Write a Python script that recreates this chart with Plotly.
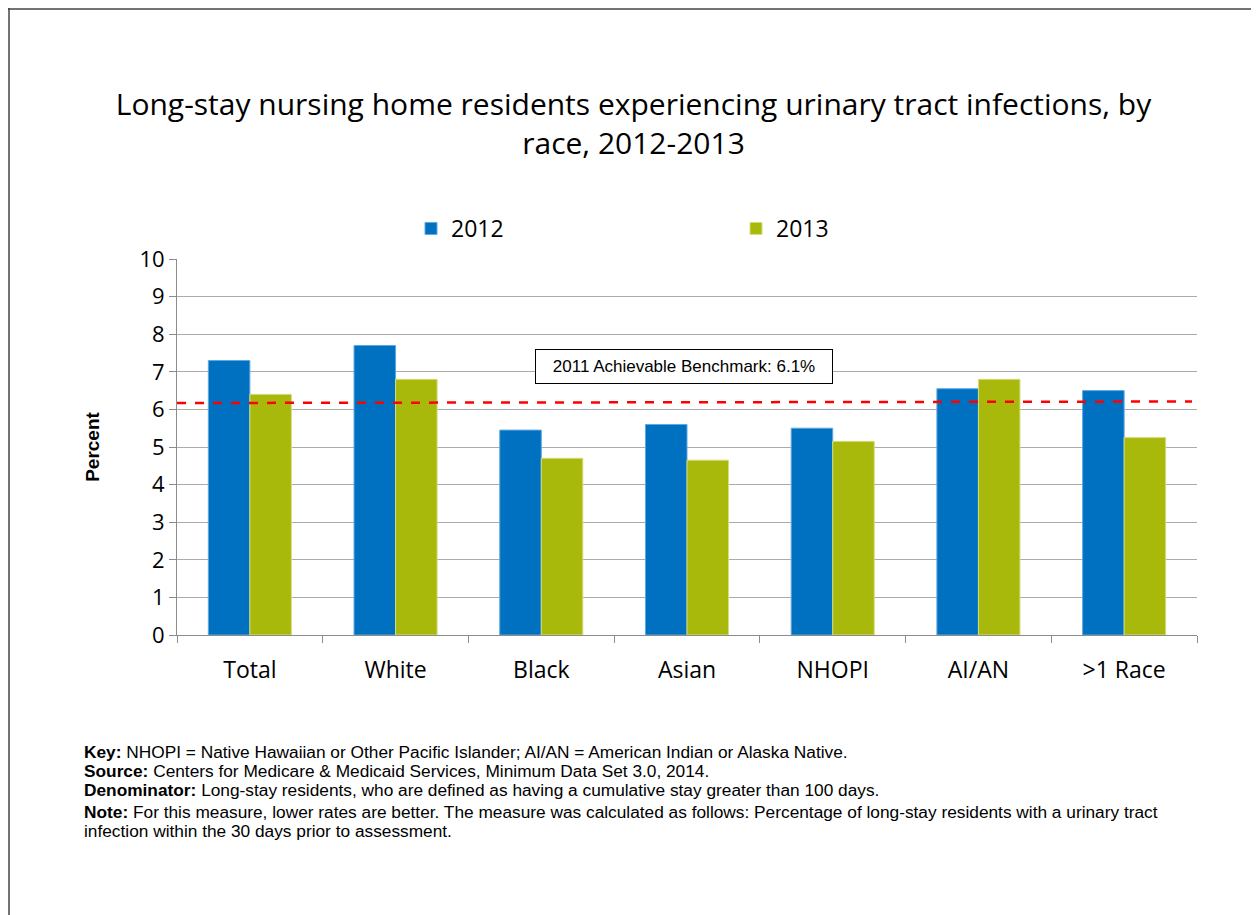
import plotly.graph_objects as go

races = ["Total", "White", "Black", "Asian", "NHOPI", "AI/AN", ">1 Race"]
pct_2012 = [7.3, 7.7, 5.45, 5.6, 5.5, 6.55, 6.5]
pct_2013 = [6.4, 6.8, 4.7, 4.65, 5.15, 6.8, 5.25]
benchmark = 6.17
benchmark_label = "2011 Achievable Benchmark: 6.1%"
y_ticks = list(range(0, 11))

notes = [
    ("Key:", " NHOPI = Native Hawaiian or Other Pacific Islander; AI/AN = American Indian or Alaska Native."),
    ("Source:", " Centers for Medicare & Medicaid Services, Minimum Data Set 3.0, 2014."),
    ("Denominator:", " Long-stay residents, who are defined as having a cumulative stay greater than 100 days."),
    ("Note:", " For this measure, lower rates are better. The measure was calculated as follows: Percentage of long-stay residents with a urinary tract"),
    ("", "infection within the 30 days prior to assessment."),
]

# page puts the figure 8px in from the top-left corner
OFF = 8
W, H = 1259, 915
L, R, T, B = 177, 62, 259, 280   # plot area in screen pixels
pw, ph = W - L - R, H - T - B

SANS = "Open Sans, Lato, sans-serif"
ARIAL = "Liberation Sans, Arial, sans-serif"


def px_x(p):
    return (p - L) / pw


def px_y(p):
    return (H - B - p) / ph


fig = go.Figure()
fig.add_bar(x=races, y=pct_2012, name="2012", marker_color="#0070C0",
            marker_line=dict(color="#5FA8E0", width=1))
fig.add_bar(x=races, y=pct_2013, name="2013", marker_color="#A9B90C",
            marker_line=dict(color="#D4DC80", width=1))

fig.update_layout(
    width=W - OFF, height=H - OFF,
    margin=dict(l=L - OFF, r=R, t=T - OFF, b=B),
    paper_bgcolor="white", plot_bgcolor="white",
    barmode="group", bargap=0.43, bargroupgap=0,
    font=dict(family=SANS, color="black"),
    title=dict(text="Long-stay nursing home residents experiencing urinary tract infections, by<br>race, 2012-2013",
               x=0.5, xref="container", xanchor="center", y=1 - (115 - OFF) / (H - OFF), yanchor="top",
               font=dict(size=30, family=SANS, color="black")),
    showlegend=True,
    legend=dict(orientation="h", x=px_x(411), y=px_y(207), xanchor="left", yanchor="top",
                font=dict(size=23), itemwidth=30, entrywidth=280, traceorder="normal",
                bgcolor="rgba(0,0,0,0)"),
    yaxis=dict(range=[0, 10], tickvals=y_ticks, showgrid=True, gridcolor="#ABABAB", gridwidth=1,
               showline=True, linecolor="#8C8C8C", ticks="outside", ticklen=7, tickcolor="#8C8C8C",
               tickfont=dict(size=22), zeroline=False,
               title=dict(text="<b>Percent</b>", font=dict(size=19, family=ARIAL), standoff=34)),
    xaxis=dict(showline=True, linecolor="#8C8C8C", ticks="outside", tickson="boundaries",
               ticklen=7, tickcolor="#8C8C8C", tickfont=dict(size=23), range=[-0.5, 6.5],
               ticklabelstandoff=14),
)

fig.add_shape(type="line", xref="paper", yref="y", x0=0, x1=px_x(1192), y0=benchmark, y1=benchmark + 0.04,
              line=dict(color="#FF0000", width=2.5, dash="dash"))
fig.add_annotation(xref="paper", yref="paper", x=px_x(684), y=px_y(366), xanchor="center", yanchor="middle",
                   text=benchmark_label, showarrow=False, font=dict(size=17, family=ARIAL),
                   bgcolor="white", bordercolor="black", borderwidth=1, borderpad=7,
                   width=282)

for i, (head, body) in enumerate(notes):
    txt = (f"<b>{head}</b>" if head else "") + body
    fig.add_annotation(xref="paper", yref="paper", x=px_x(82), y=px_y(752 + 19 * i + (3 if i >= 3 else 0)),
                       xanchor="left", yanchor="middle", align="left", showarrow=False, text=txt,
                       font=dict(size=17.3, family=ARIAL, color="black"))

# frame around the slide
fig.add_shape(type="line", xref="paper", yref="paper", x0=px_x(OFF), x1=px_x(W + 5), y0=px_y(OFF + 1),
              y1=px_y(OFF + 1), line=dict(color="#444444", width=1.5))
fig.add_shape(type="line", xref="paper", yref="paper", x0=px_x(OFF + 1), x1=px_x(OFF + 1), y0=px_y(OFF),
              y1=px_y(H + 5), line=dict(color="#444444", width=1.5))

fig.write_html("out.html")
